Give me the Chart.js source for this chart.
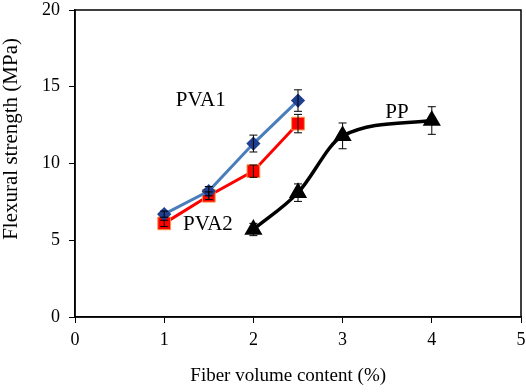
<!DOCTYPE html>
<html><head><meta charset="utf-8">
<script src="https://cdn.jsdelivr.net/npm/chart.js@4/dist/chart.umd.min.js"></script>
<style>html,body{margin:0;padding:0;background:#fff}#wrap{width:526px;height:392px;position:relative}</style>
</head><body><div id="wrap"><canvas id="c" width="526" height="392"></canvas></div>
<script>
const pva1X = [1, 1.5, 2, 2.5];
const pva1Y = [6.7, 8.2, 11.3, 14.1];
const pva1Err = [0.2, 0.3, 0.55, 0.7];
const pva2X = [1, 1.5, 2, 2.5];
const pva2Y = [6.1, 7.9, 9.5, 12.6];
const pva2Err = [0.2, 0.25, 0.4, 0.6];
const ppX = [2, 2.5, 3, 4];
const ppY = [5.7, 8.1, 11.8, 12.8];
const ppErr = [0.4, 0.57, 0.84, 0.9];
const xTicks = [0, 1, 2, 3, 4, 5];
const yTicks = [0, 5, 10, 15, 20];
const xTitle = 'Fiber volume content (%)';
const yTitle = 'Flexural strength (MPa)';
const seriesLabels = [
  {text: 'PVA1', x: 1.41, y: 14.1},
  {text: 'PVA2', x: 1.49, y: 6.0},
  {text: 'PP', x: 3.61, y: 13.35}
];
const serif = "'Liberation Serif', 'Times New Roman', serif";

const pts = (xs, ys) => xs.map((x, i) => ({x, y: ys[i]}));

const errorBars = {
  id: 'errorBars',
  afterDatasetsDraw(chart) {
    const ctx = chart.ctx, xs = chart.scales.x, ys = chart.scales.y;
    const errs = [pva1Err, pva2Err, ppErr];
    ctx.save();
    ctx.strokeStyle = '#000';
    ctx.lineWidth = 1;
    chart.data.datasets.forEach((ds, di) => {
      ds.data.forEach((p, i) => {
        const e = errs[di][i];
        const px = xs.getPixelForValue(p.x);
        const y1 = ys.getPixelForValue(p.y + e), y2 = ys.getPixelForValue(p.y - e);
        ctx.beginPath();
        ctx.moveTo(px, y1); ctx.lineTo(px, y2);
        ctx.moveTo(px - 4, y1); ctx.lineTo(px + 4, y1);
        ctx.moveTo(px - 4, y2); ctx.lineTo(px + 4, y2);
        ctx.stroke();
      });
    });
    ctx.restore();
  }
};

const frameAndLabels = {
  id: 'frameAndLabels',
  afterDraw(chart) {
    const ctx = chart.ctx, a = chart.chartArea, xs = chart.scales.x, ys = chart.scales.y;
    ctx.save();
    ctx.strokeStyle = '#000';
    ctx.lineWidth = 1.5;
    ctx.strokeRect(a.left, a.top, a.right - a.left, a.bottom - a.top);
    ctx.fillStyle = '#000';
    ctx.font = '21px ' + serif;
    ctx.textAlign = 'center';
    ctx.textBaseline = 'middle';
    seriesLabels.forEach(l => ctx.fillText(l.text, xs.getPixelForValue(l.x), ys.getPixelForValue(l.y)));
    // axis titles
    ctx.font = '19px ' + serif;
    ctx.fillText(xTitle, a.left + (a.right - a.left) * 0.478, chart.height - 16);
    ctx.save();
    ctx.translate(11, a.top + (a.bottom - a.top) * 0.42);
    ctx.rotate(-Math.PI / 2);
    ctx.font = '21px ' + serif;
    ctx.fillText(yTitle, 0, 0);
    ctx.restore();
    ctx.restore();
  }
};

new Chart(document.getElementById('c'), {
  type: 'scatter',
  data: {
    datasets: [
      {label: 'PVA1', data: pts(pva1X, pva1Y), showLine: true, borderColor: '#4a7ebb', borderWidth: 3,
       pointStyle: 'rectRot', pointRadius: 5, pointBackgroundColor: '#1f3f8f', pointBorderColor: '#1f3f8f', tension: 0},
      {label: 'PVA2', data: pts(pva2X, pva2Y), showLine: true, borderColor: '#ff0000', borderWidth: 3,
       pointStyle: 'rect', pointRadius: 9, pointBackgroundColor: '#ff0000', pointBorderColor: '#f79646', pointBorderWidth: 1, tension: 0},
      {label: 'PP', data: pts(ppX, ppY), showLine: true, borderColor: '#000', borderWidth: 3.5,
       pointStyle: 'triangle', pointRadius: 7, pointBackgroundColor: '#000', pointBorderColor: '#000', cubicInterpolationMode: 'monotone'}
    ]
  },
  options: {
    responsive: false,
    animation: false,
    layout: {autoPadding: false, padding: {top: 10, right: 5, left: 0, bottom: 0}},
    plugins: {legend: {display: false}, tooltip: {enabled: false}},
    scales: {
      x: {
        type: 'linear', min: 0, max: 5,
        afterBuildTicks: s => { s.ticks = xTicks.map(v => ({value: v})); },
        afterFit: s => {
          s.height = 75; s.paddingLeft = 0; s.paddingRight = 0;
          if (s._margins) { s._margins.left = 0; s._margins.right = 0; }
        },
        grid: {display: true, drawOnChartArea: false, drawTicks: true, tickLength: 6, color: '#000'},
        border: {display: true, color: '#000', width: 1.5},
        ticks: {color: '#000', font: {family: serif, size: 18}, padding: 6},
        title: {display: false}
      },
      y: {
        type: 'linear', min: 0, max: 20,
        afterBuildTicks: s => { s.ticks = yTicks.map(v => ({value: v})); },
        afterFit: s => {
          s.width = 75; s.paddingTop = 0; s.paddingBottom = 0;
          if (s._margins) { s._margins.top = 0; s._margins.bottom = 0; }
        },
        grid: {display: true, drawOnChartArea: false, drawTicks: true, tickLength: 6, color: '#000'},
        border: {display: true, color: '#000', width: 1.5},
        ticks: {color: '#000', font: {family: serif, size: 18}, padding: 9},
        title: {display: false}
      }
    }
  },
  plugins: [errorBars, frameAndLabels]
});
</script></body></html>
